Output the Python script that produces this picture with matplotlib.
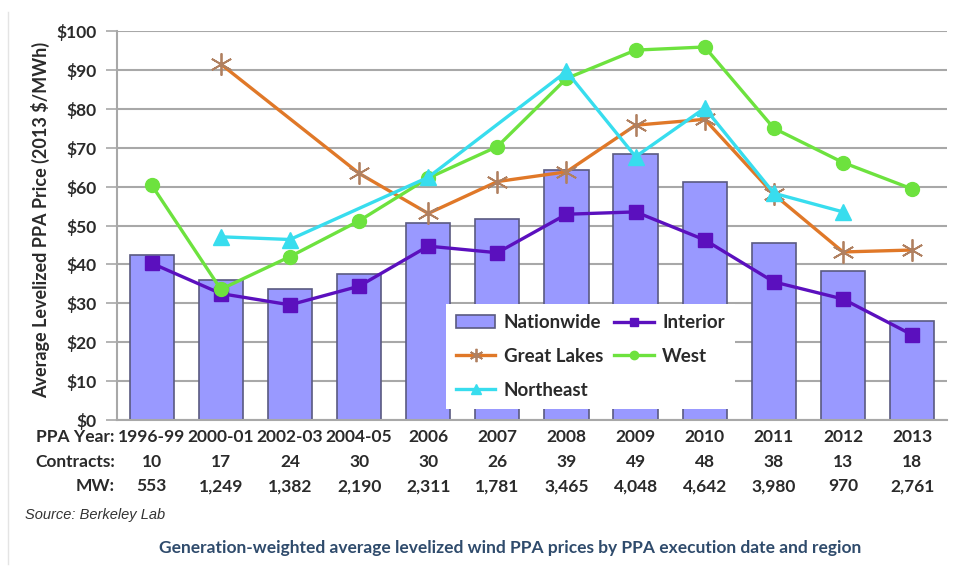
import matplotlib.pyplot as plt
import matplotlib.transforms as mtransforms
from matplotlib.lines import Line2D
import numpy as np

plt.rcParams['font.family'] = ['Lato', 'DejaVu Sans']

years = ['1996-99', '2000-01', '2002-03', '2004-05', '2006', '2007',
         '2008', '2009', '2010', '2011', '2012', '2013']
contracts = ['10', '17', '24', '30', '30', '26', '39', '49', '48', '38', '13', '18']
mw = ['553', '1,249', '1,382', '2,190', '2,311', '1,781', '3,465', '4,048',
      '4,642', '3,980', '970', '2,761']

nan = np.nan
nationwide = [42.4, 36.0, 33.7, 37.5, 50.6, 51.6, 64.3, 68.4, 61.2, 45.5, 38.3, 25.5]
interior = [40.3, 32.5, 29.6, 34.4, 44.7, 43.0, 52.9, 53.5, 46.3, 35.5, 31.1, 21.9]
great_lakes = [nan, 91.5, nan, 63.4, 53.1, 61.3, 63.8, 75.8, 77.3, 58.0, 43.2, 43.7]
west = [60.4, 33.6, 42.0, 51.2, 62.2, 70.3, 87.8, 95.1, 95.9, 75.0, 66.2, 59.4]
northeast = [nan, 47.1, 46.4, nan, 62.4, nan, 89.6, 67.7, 80.2, 58.3, 53.5, nan]

TXT = '#2A2A2A'

fig = plt.figure(figsize=(9.68, 5.75), dpi=100)
ax = fig.add_axes([0.121, 0.2696, 0.857, 0.6764])

x = np.arange(len(years))
bars = ax.bar(x, nationwide, width=0.64, color='#9999FF', edgecolor='#5A5A80',
              linewidth=1.2, label='Nationwide', zorder=2)


def plot_series(vals, **kw):
    # skip the missing years, join the rest
    vals = np.array(vals, dtype=float)
    ok = ~np.isnan(vals)
    return ax.plot(x[ok], vals[ok], zorder=3, **kw)[0]


l_int = plot_series(interior, color='#5B10BE', lw=2.4, marker='s', ms=10,
                    label='Interior')
l_gl = plot_series(great_lakes, color='#E07828', lw=2.4, marker=(6, 2, 0), ms=16,
                   mec='#B08060', mew=1.3, label='Great Lakes')
l_west = plot_series(west, color='#6DE23E', lw=2.4, marker='o', ms=10,
                     label='West')
l_ne = plot_series(northeast, color='#38DDEE', lw=2.4, marker='^', ms=11,
                   label='Northeast')

ax.set_xlim(-0.5, len(years) - 0.5)
ax.set_ylim(0, 100)
ax.set_yticks(range(0, 101, 10))
ax.set_yticklabels(['$%d' % v for v in range(0, 101, 10)], fontsize=12.5,
                   fontweight='bold', color=TXT)
ax.set_xticks([])
ax.yaxis.grid(True, color='#A8A8A8', lw=1.5, zorder=0)
ax.set_axisbelow(True)
ax.tick_params(axis='y', length=8, width=1.2, color='#A8A8A8', pad=7)
for s in ['top', 'right']:
    ax.spines[s].set_visible(False)
ax.spines['left'].set_color('#A8A8A8')
ax.spines['bottom'].set_color('#A8A8A8')
ax.spines['left'].set_linewidth(1.5)
ax.spines['bottom'].set_linewidth(1.5)

# table of labels under the axis
trans = mtransforms.blended_transform_factory(ax.transData, ax.transAxes)
rows = [('PPA Year:', years, -0.044), ('Contracts:', contracts, -0.108),
        ('MW:', mw, -0.170)]
for name, labels, yy in rows:
    ax.text(-0.003, yy, name, transform=ax.transAxes, ha='right', va='center',
            fontsize=12.5, fontweight='bold', color=TXT)
    for i, lab in enumerate(labels):
        ax.text(i, yy, lab, transform=trans, ha='center', va='center',
                fontsize=12.5, fontweight='bold', color=TXT)

leg = ax.legend([bars, l_gl, l_ne, l_int, l_west],
                ['Nationwide', 'Great Lakes', 'Northeast', 'Interior', 'West'],
                ncol=2, loc='lower left', bbox_to_anchor=(0.396, 0.028),
                frameon=True, fancybox=False, edgecolor='white', framealpha=1,
                prop={'size': 13.5, 'weight': 'bold'}, handlelength=2.1,
                handleheight=0.65, columnspacing=0.6, handletextpad=0.45,
                labelspacing=0.9, borderpad=0.55, borderaxespad=0,
                markerscale=0.6)
leg.get_frame().set_linewidth(0)
leg.set_zorder(5)
for t in leg.get_texts():
    t.set_color(TXT)

fig.text(0.042, 0.617, 'Average Levelized PPA Price (2013 $/MWh)', rotation=90,
         ha='center', va='center', fontsize=13, fontweight='bold', color=TXT)
fig.text(0.026, 0.104, 'Source: Berkeley Lab', fontsize=10.5, style='italic',
         family='Liberation Sans', color='#333333', va='center')
fig.text(0.527, 0.047, 'Generation-weighted average levelized wind PPA prices '
         'by PPA execution date and region', ha='center', va='center',
         fontsize=12.5, fontweight='bold', color='#2F4B6C')

# faint page edge on the left, as in the screenshot
fig.add_artist(Line2D([0.008, 0.008], [0.02, 0.98], transform=fig.transFigure,
                      color='#E4E4E4', lw=1))

fig.savefig('out.png', dpi=100)
